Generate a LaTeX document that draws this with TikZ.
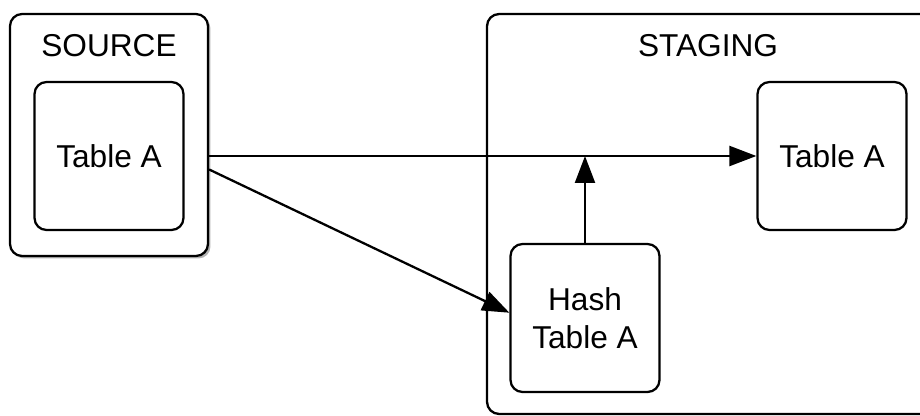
\documentclass[tikz,border=0pt]{standalone}
\usepackage{fontspec}
\setmainfont{Liberation Sans}
\usetikzlibrary{arrows.meta,shadows}

\begin{document}
\begin{tikzpicture}[x=0.02cm,y=-0.02cm,
	box/.style={draw,fill=white,line width=1.3pt,rounded corners=0.24cm,align=center,
		font=\fontsize{18}{21.6}\selectfont},
	tablebox/.style={box,minimum width=2.98cm,minimum height=2.96cm},
	groupbox/.style={box,drop shadow={shadow xshift=0.05cm,shadow yshift=-0.05cm,opacity=0.6}},
	title/.style={font=\fontsize{18}{21.6}\selectfont},
	feed/.style={line width=1.3pt,-{Triangle[length=0.54cm,width=0.4cm]}}]
	\useasboundingbox (0,0) rectangle (920,416);
	% Groups
	\node[groupbox,minimum width=3.96cm,minimum height=4.84cm] (src) at (109,135) {};
	\node[box,minimum width=8.96cm,minimum height=8cm] (stg) at (711,214) {};
	\node[title] (srctitle) at (109,46) {SOURCE};
	\node[title] (stgtitle) at (708,46) {STAGING};
	% Tables
	\node[tablebox] (srcA) at (109,156) {Table A};
	\node[tablebox] (stgA) at (832,156) {Table A};
	\node[tablebox] (hashA) at (585,318) {Hash\\Table A};
	% Loads
	\draw[feed] (srcA.east -| src.east) -- (stgA.west);
	\draw[feed] (src.-19.5) -- (hashA.176);
	\draw[feed] (hashA.north) -- (hashA.north |- stgA.west);
\end{tikzpicture}
\end{document}
